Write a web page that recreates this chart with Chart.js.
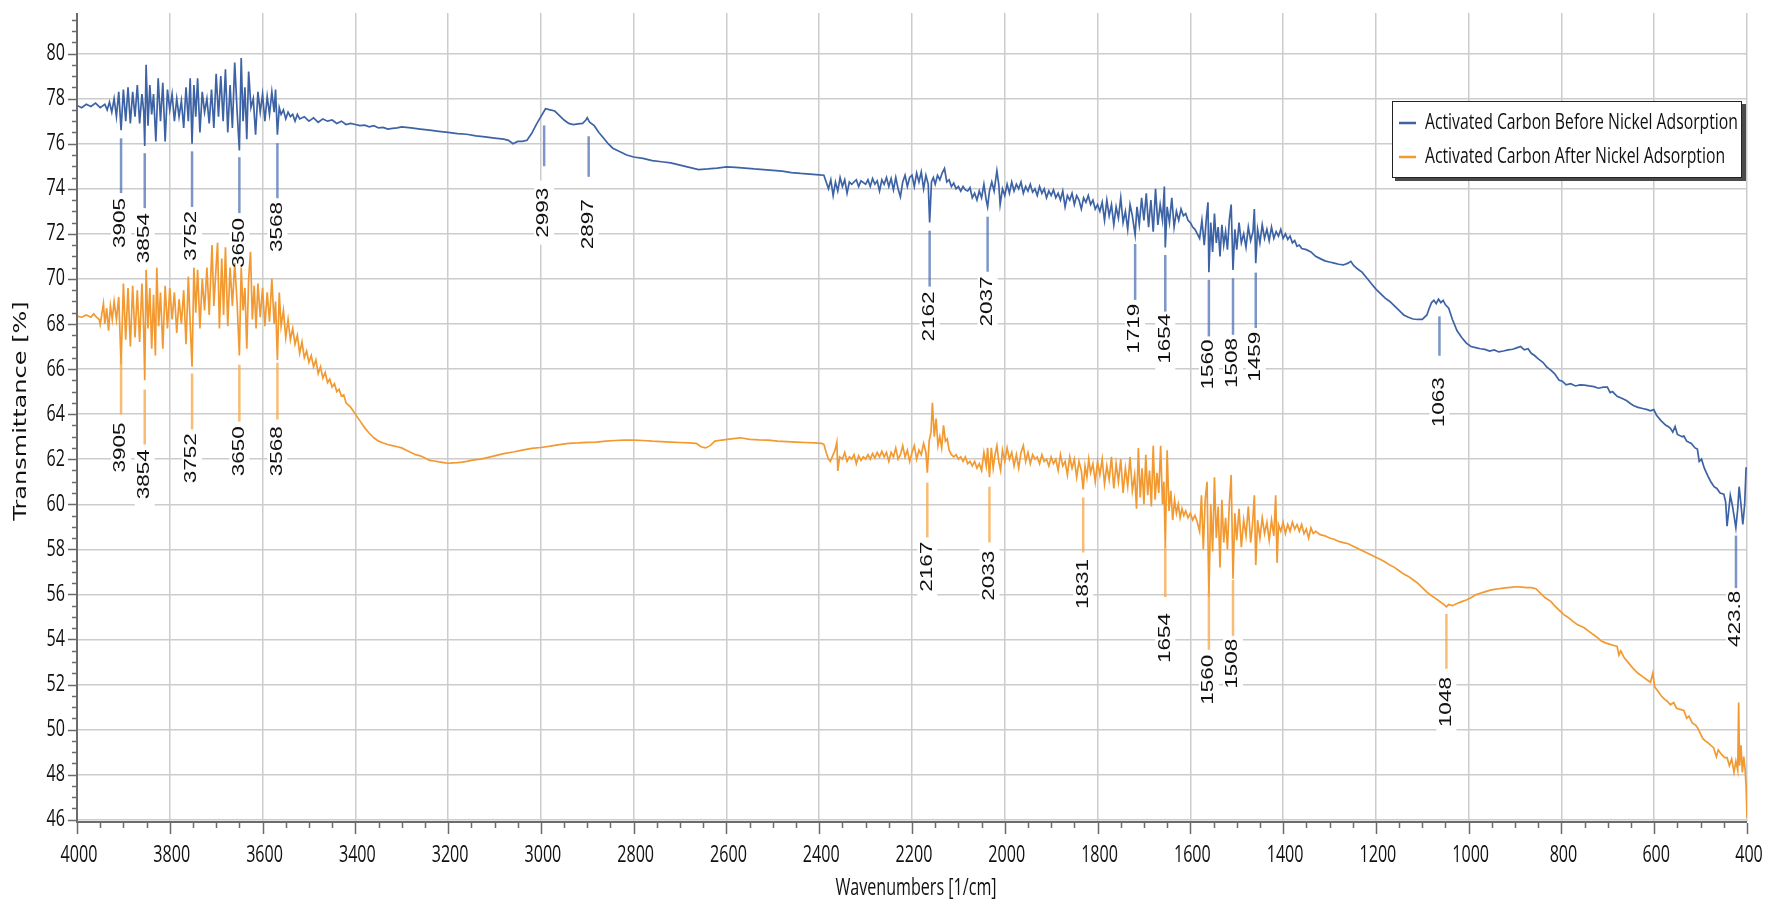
<!DOCTYPE html>
<html>
<head>
<meta charset="utf-8">
<script src="https://cdn.jsdelivr.net/npm/chart.js@4.4.1/dist/chart.umd.min.js"></script>
<style>
  html, body { margin: 0; padding: 0; background: #ffffff; }
  canvas { display: block; }
</style>
</head>
<body>
<canvas id="c" width="1768" height="900"></canvas>
<script>
// ---------------- DATA ----------------
const seriesNames = ['Activated Carbon Before Nickel Adsorption', 'Activated Carbon After Nickel Adsorption'];

const xTicks = [4000, 3800, 3600, 3400, 3200, 3000, 2800, 2600, 2400, 2200, 2000, 1800, 1600, 1400, 1200, 1000, 800, 600, 400];
const yTicks = [46, 48, 50, 52, 54, 56, 58, 60, 62, 64, 66, 68, 70, 72, 74, 76, 78, 80];

// [wavenumber (1/cm), transmittance (%)]
const beforeSpectrum = [
[4000,77.7],[3990,77.6],[3980,77.75],[3970,77.65],[3960,77.8],[3950,77.6],[3940,77.75],[3935,77.5],[3930,77.85],[3925,77.4],[3920,78.0],
[3915,77.2],[3910,78.3],[3905,76.6],[3900,78.4],[3895,77.0],[3890,78.5],[3885,76.9],[3880,78.3],[3875,77.2],[3870,78.6],[3865,76.9],[3860,78.2],[3856,77.4],[3854,75.9],[3851,79.5],[3847,76.8],[3843,78.6],[3839,77.3],[3835,78.2],[3830,76.1],[3825,78.9],[3820,77.0],[3815,78.7],[3810,76.1],[3805,78.4],[3800,77.5],[3795,78.2],[3790,77.0],[3785,78.0],[3780,77.2],[3775,77.9],[3770,76.7],[3765,78.5],[3760,77.0],[3756,78.9],[3752,76.0],[3748,78.6],[3744,77.2],[3740,78.9],[3735,76.5],[3730,78.3],[3725,77.4],[3720,78.0],[3715,76.9],[3710,78.4],[3705,76.7],[3700,79.1],[3695,77.2],[3690,79.0],[3685,77.0],[3680,79.3],[3675,76.5],[3670,78.6],[3665,76.7],[3660,79.6],[3655,77.5],[3650,75.7],[3646,79.8],[3642,77.0],[3638,78.5],[3634,76.2],[3630,79.2],[3625,77.6],[3620,78.0],[3615,76.4],[3610,78.3],[3605,77.4],[3600,78.2],[3595,77.0],[3590,78.1],[3585,77.3],[3580,78.3],[3575,77.4],[3572,78.4],[3568,76.4],[3564,77.6],[3560,77.3],
[3555,77.5],[3550,77.1],[3545,77.4],[3540,77.2],[3535,77.3],[3530,77.0],[3525,77.3],[3520,77.1],[3510,77.2],[3500,77.0],[3490,77.15],[3480,76.95],[3470,77.1],[3460,77.0],[3450,77.05],[3440,76.9],[3430,77.0],[3420,76.85],[3410,76.9],[3400,76.85],[3390,76.8],[3380,76.82],[3370,76.75],[3360,76.8],[3350,76.7],[3340,76.72],[3330,76.65],[3320,76.68],[3310,76.7],[3300,76.75],[3280,76.7],[3260,76.65],[3240,76.6],[3220,76.55],[3200,76.5],[3180,76.45],[3160,76.42],[3140,76.35],[3120,76.3],[3100,76.25],[3080,76.2],[3070,76.15],[3060,76.0],[3050,76.1],[3040,76.1],[3030,76.15],[3020,76.45],[3010,76.85],[3000,77.2],[2990,77.55],[2980,77.5],[2970,77.45],[2960,77.25],[2950,77.05],[2940,76.9],[2930,76.85],[2920,76.88],[2910,76.9],[2903,77.05],[2900,77.15],[2895,76.95],[2885,76.8],[2875,76.5],[2865,76.25],[2855,76.0],[2845,75.8],[2835,75.7],[2825,75.6],[2815,75.5],[2800,75.41],[2780,75.35],[2760,75.25],[2740,75.2],[2720,75.15],[2700,75.05],[2680,74.95],[2660,74.85],[2640,74.88],[2620,74.92],[2600,74.97],[2580,74.95],[2560,74.92],[2540,74.88],[2520,74.85],[2500,74.82],[2480,74.78],[2460,74.72],[2440,74.68],[2420,74.65],[2400,74.62],[2390,74.6],
[2385,74.3],[2380,74.0],[2375,74.4],[2370,73.7],[2365,74.3],[2360,73.9],[2355,74.5],[2350,74.1],[2345,74.4],[2340,73.8],[2335,74.3],[2330,74.2],[2320,74.4],[2315,74.1],[2310,74.35],[2300,74.2],[2295,74.4],[2290,74.1],[2285,74.45],[2280,74.2],[2275,74.35],[2270,73.9],[2265,74.4],[2260,74.2],[2255,74.5],[2250,74.1],[2245,74.45],[2240,73.95],[2235,74.5],[2230,74.0],[2225,73.64],[2220,74.3],[2215,74.6],[2210,74.1],[2205,74.5],[2200,74.6],[2195,74.1],[2190,74.7],[2185,74.3],[2180,74.75],[2175,74.0],[2170,74.6],[2165,74.2],[2162,72.5],[2158,74.3],[2154,74.5],[2150,74.2],[2145,74.6],[2140,74.4],[2135,74.7],[2130,74.9],[2125,74.3],[2120,74.4],[2115,74.1],[2110,74.25],[2105,74.0],[2100,74.1],[2095,73.9],[2090,74.1],[2085,73.95],[2080,73.9],[2075,74.05],[2070,73.6],[2065,73.8],[2060,73.5],[2055,73.9],[2050,73.6],[2045,74.2],[2040,73.5],[2037,73.2],[2033,73.9],[2028,74.3],[2023,73.9],[2017,74.8],[2013,74.2],[2010,73.3],[2005,74.0],[2000,73.7],[1995,74.2],[1990,73.8],[1985,74.3],[1980,73.9],[1975,74.2],[1970,74.0],[1965,74.3],[1960,73.8],[1955,74.1],[1950,73.9],[1945,74.2],[1940,73.85],[1935,74.0],[1930,73.7],[1925,74.1],[1920,73.8],[1915,74.0],[1910,73.6],[1905,73.9],[1900,73.7],[1895,73.95],[1890,73.6],[1885,73.8],[1880,73.5],[1875,73.9],[1870,73.2],[1865,73.7],[1860,73.5],[1855,73.8],[1850,73.3],[1845,73.7],[1840,73.5],[1835,73.1],[1830,73.6],[1825,73.4],[1820,73.7],[1815,73.3],[1810,73.5],[1805,73.1],[1800,73.3],[1795,73.0],
[1790,73.4],[1785,72.6],[1780,73.5],[1775,72.8],[1770,73.3],[1765,72.4],[1760,73.2],[1755,72.7],[1750,73.6],[1745,72.5],[1740,73.0],[1735,72.2],[1730,73.3],[1725,72.8],[1719,71.95],[1715,73.2],[1710,72.4],[1705,73.6],[1700,72.6],[1695,73.8],[1690,72.3],[1685,73.5],[1680,72.1],[1675,74.0],[1670,72.4],[1665,73.3],[1660,72.6],[1656,74.1],[1654,71.4],[1650,73.2],[1645,72.5],[1640,73.6],[1635,72.3],[1630,73.0],[1625,72.6],[1620,73.1],[1615,72.8],[1610,72.9],[1605,72.6],[1600,72.5],[1595,72.3],[1590,72.2],[1585,72.0],
[1580,71.8],[1575,72.6],[1570,71.5],[1565,72.8],[1562,73.4],[1560,70.3],[1556,72.5],[1552,71.2],[1548,72.9],[1544,71.6],[1540,72.3],[1536,71.0],[1532,72.4],[1528,71.5],[1524,72.1],[1520,71.3],[1516,72.6],[1512,73.3],[1508,70.4],[1504,72.2],[1500,71.3],[1495,72.5],[1490,71.6],[1485,72.0],[1480,71.4],[1475,72.3],[1470,71.7],[1465,72.1],[1462,73.1],[1459,70.7],[1455,72.2],[1450,71.6],[1445,72.4],[1440,71.8],[1435,72.2],[1430,71.7],[1425,72.3],[1420,71.8],[1415,72.1],[1410,71.9],[1405,72.2],[1400,71.8],[1395,72.0],[1390,71.75],[1385,71.9],[1380,71.6],[1375,71.7],[1370,71.45],[1365,71.5],[1360,71.35],
[1350,71.3],[1340,71.2],[1330,71.0],[1320,70.9],[1310,70.8],[1300,70.75],[1290,70.7],[1280,70.65],[1270,70.62],[1260,70.7],[1254,70.78],[1248,70.6],[1240,70.45],[1230,70.3],[1220,70.05],[1210,69.8],[1200,69.55],[1190,69.35],[1180,69.15],[1170,69.0],[1160,68.8],[1150,68.6],[1140,68.4],[1130,68.3],[1120,68.22],[1110,68.2],[1100,68.2],[1090,68.4],[1085,68.7],[1080,68.95],[1075,69.05],[1070,68.9],[1065,69.1],[1060,68.95],[1055,69.05],[1050,68.85],[1043,68.7],[1035,68.2],[1025,67.7],[1015,67.4],[1005,67.15],[995,67.0],[985,66.95],[975,66.9],[965,66.87],[955,66.8],[945,66.85],[935,66.76],[925,66.8],[915,66.85],[905,66.88],[895,66.95],[888,67.0],[880,66.85],[872,66.9],[865,66.7],[858,66.6],[850,66.45],[840,66.3],[832,66.1],[823,65.95],[815,65.8],[805,65.5],[798,65.46],[790,65.3],[780,65.35],[770,65.25],[760,65.3],[751,65.29],[740,65.25],[730,65.22],[720,65.15],[710,65.2],[701,65.2],[695,64.95],[690,65.0],[680,64.79],[670,64.7],[660,64.6],[650,64.45],[644,64.37],[635,64.3],[625,64.25],[615,64.2],[608,64.15],[601,64.2],[595,63.95],[585,63.7],[575,63.5],[570,63.45],[565,63.37],[560,63.2],[555,63.45],[550,63.1],[540,63.0],[536,63.03],[530,62.8],[520,62.7],[512,62.5],[507,62.45],[503,61.9],[498,62.0],[492,61.6],[485,61.28],[478,61.0],[471,60.78],[465,60.7],[458,60.5],[450,60.45],[446,60.1],[443,59.03],[440,59.6],[436,60.4],[432,60.0],[428,59.5],[424,58.95],[420,59.8],[417,60.78],[413,60.0],[409,59.1],[405,60.0],[402,61.6],[400,61.6]
];

const afterSpectrum = [
[4000,68.35],[3990,68.3],[3980,68.4],[3970,68.3],[3964,68.45],[3958,68.3],[3952,68.2],[3950,67.98],[3946,68.5],[3943,68.9],[3940,68.0],[3936,68.7],[3932,67.7],[3928,68.8],[3924,68.2],[3920,69.0],
[3915,68.2],[3910,69.2],[3905,66.2],[3900,69.8],[3895,67.3],[3890,69.6],[3885,67.0],[3880,69.7],[3875,67.4],[3870,69.5],[3865,67.2],[3860,69.8],[3856,67.6],[3854,65.5],[3851,70.4],[3847,67.8],[3843,69.6],[3839,66.9],[3835,69.3],[3831,66.6],[3828,70.5],[3824,67.9],[3820,69.4],[3815,66.9],[3810,69.7],[3805,67.8],[3800,69.6],[3795,68.2],[3790,69.4],[3785,67.6],[3780,69.1],[3775,68.0],[3770,69.5],[3765,67.1],[3760,70.1],[3756,68.0],[3752,66.1],[3748,70.5],[3744,68.5],[3740,70.4],[3735,67.8],[3730,70.0],[3725,68.6],[3720,70.5],[3715,68.4],[3709,71.5],[3705,68.8],[3700,70.6],[3697,71.6],[3693,67.8],[3688,70.9],[3684,68.4],[3680,71.4],[3675,67.9],[3670,70.5],[3665,68.8],[3660,70.7],[3655,69.0],[3650,66.6],[3646,70.5],[3642,68.6],[3638,69.6],[3634,66.9],[3630,70.0],[3626,71.2],[3622,68.2],[3618,69.7],[3614,67.8],[3610,69.8],[3605,68.3],[3600,69.6],[3595,67.9],[3590,69.4],[3585,68.1],[3580,70.0],[3575,68.0],[3572,69.0],[3568,66.4],[3564,69.4],[3560,67.9],
[3555,68.6],[3550,67.4],[3545,68.2],[3540,67.3],[3535,67.8],[3530,67.1],[3525,67.5],[3520,66.7],[3515,67.2],[3510,66.5],[3505,66.8],[3500,66.3],[3495,66.6],[3490,66.1],[3485,66.4],[3480,65.8],[3475,66.1],[3470,65.6],[3465,65.85],[3460,65.4],[3455,65.55],[3450,65.2],[3445,65.35],[3440,65.0],[3435,65.1],[3430,64.8],[3425,64.85],[3420,64.5],[3410,64.3],[3400,64.0],[3390,63.7],[3380,63.4],[3370,63.15],[3360,62.95],[3350,62.8],[3340,62.72],[3330,62.65],[3320,62.6],[3310,62.55],[3300,62.5],[3290,62.4],[3280,62.3],[3270,62.2],[3260,62.15],[3250,62.05],[3240,61.95],[3230,61.92],[3220,61.88],[3210,61.85],[3200,61.82],[3190,61.84],[3180,61.85],[3170,61.87],[3160,61.9],[3150,61.95],[3140,61.98],[3130,62.0],[3120,62.05],[3100,62.15],[3080,62.25],[3060,62.32],[3040,62.4],[3020,62.48],[3000,62.52],[2980,62.58],[2960,62.65],[2940,62.7],[2920,62.72],[2900,62.75],[2880,62.76],[2860,62.8],[2840,62.83],[2820,62.85],[2800,62.85],[2780,62.83],[2760,62.8],[2740,62.78],[2720,62.76],[2700,62.74],[2680,62.72],[2665,62.7],[2655,62.55],[2645,62.5],[2635,62.6],[2625,62.8],[2610,62.85],[2590,62.9],[2570,62.95],[2550,62.88],[2530,62.86],[2510,62.85],[2490,62.8],[2470,62.78],[2450,62.76],[2430,62.74],[2410,62.72],[2395,62.7],[2390,62.66],
[2385,62.3],[2380,62.0],[2376,61.9],[2370,62.2],[2366,62.4],[2362,62.75],[2360,61.48],[2356,62.1],[2350,62.0],[2345,62.3],[2340,61.9],[2335,62.1],[2330,62.0],[2325,62.2],[2320,61.8],[2315,62.15],[2310,61.95],[2305,62.1],[2300,62.0],[2295,62.2],[2290,62.0],[2285,62.25],[2280,62.05],[2275,62.3],[2270,62.1],[2265,62.35],[2260,62.1],[2255,62.3],[2250,61.9],[2245,62.3],[2240,62.1],[2235,62.5],[2230,62.0],[2225,62.2],[2220,62.6],[2215,62.1],[2210,62.4],[2205,61.9],[2200,62.3],[2195,62.6],[2190,62.0],[2185,62.4],[2180,62.2],[2175,62.7],[2170,62.3],[2167,61.4],[2163,62.8],[2159,63.2],[2156,64.5],[2152,63.0],[2148,63.8],[2144,62.6],[2140,63.0],[2136,62.5],[2132,63.5],[2128,62.8],[2124,62.9],[2120,62.4],[2115,62.2],[2110,62.1],[2105,62.2],[2100,62.0],[2095,62.1],[2090,61.9],[2085,62.1],[2080,61.8],[2075,61.9],[2070,61.7],[2065,61.9],[2060,61.6],[2055,61.8],[2050,61.5],[2045,62.3],[2040,61.7],[2037,62.5],[2033,61.2],[2029,62.5],[2025,61.6],[2021,62.2],[2017,62.6],[2013,61.9],[2009,61.5],[2005,62.4],[2000,61.9],[1995,62.5],[1990,62.0],[1985,62.3],[1980,61.7],[1975,62.2],[1970,61.6],[1965,62.3],[1960,62.6],[1955,61.9],[1950,62.3],[1945,61.8],[1940,62.2],[1935,62.0],[1930,62.1],[1925,61.8],[1920,62.2],[1915,61.9],[1910,62.0],[1905,61.7],[1900,62.1],[1895,61.8],[1890,62.0],[1885,61.5],[1880,62.2],[1875,61.7],[1870,61.9],[1865,61.3],[1860,62.1],[1855,61.6],[1850,62.0],[1845,61.2],[1840,61.9],[1835,61.5],[1831,60.66],[1827,61.7],[1823,61.2],[1819,62.0],[1815,61.4],[1810,61.8],[1805,61.0],[1800,61.9],[1795,61.3],[1790,62.0],[1785,60.9],[1780,61.7],[1775,61.1],[1770,62.1],[1765,60.7],[1760,61.8],[1755,61.0],[1750,62.0],[1745,60.5],[1740,61.6],[1735,60.8],[1730,62.1],[1725,60.6],[1720,61.3],[1716,59.8],[1712,62.5],[1708,60.3],[1704,61.6],[1700,60.0],[1696,62.2],[1692,60.4],[1688,61.5],[1684,59.9],[1680,62.6],[1676,60.2],[1672,61.4],[1668,60.5],[1664,62.6],[1660,60.0],[1657,61.0],[1654,58.1],[1650,62.4],[1646,59.7],[1642,60.6],[1638,59.3],[1634,60.2],[1630,59.6],[1626,60.0],[1622,59.4],[1618,59.8],[1614,59.5],[1610,59.7],[1605,59.4],[1600,59.6],[1595,59.3],[1590,59.5],[1585,59.2],[1580,58.8],[1576,60.4],[1572,58.0],[1568,60.2],[1564,61.0],[1560,55.9],[1556,60.0],[1552,57.9],[1548,61.2],[1544,58.5],[1540,59.9],[1536,57.2],[1532,60.2],[1528,58.3],[1524,59.4],[1520,58.0],[1516,60.0],[1512,61.3],[1508,56.7],[1504,59.6],[1500,58.4],[1495,59.8],[1490,58.1],[1485,59.3],[1480,58.6],[1475,59.9],[1470,58.3],[1466,59.1],[1462,60.4],[1459,57.3],[1455,59.3],[1450,58.5],[1445,59.4],[1440,58.7],[1435,59.2],[1430,58.4],[1425,59.3],[1420,58.6],[1416,60.4],[1413,57.4],[1410,59.1],[1405,58.8],[1400,59.2],[1395,58.7],[1390,59.1],[1385,58.8],[1380,59.2],[1375,58.9],[1370,59.1],[1365,58.8],[1360,59.1],[1355,58.7],[1350,58.9],[1345,58.5],[1340,58.95],[1335,58.7],[1330,58.8],
[1320,58.65],[1310,58.6],[1300,58.5],[1290,58.45],[1280,58.35],[1270,58.3],[1260,58.25],[1250,58.15],[1240,58.05],[1230,57.95],[1220,57.85],[1210,57.75],[1200,57.65],[1190,57.55],[1180,57.44],[1170,57.3],[1160,57.2],[1150,57.05],[1140,56.9],[1130,56.8],[1120,56.65],[1110,56.5],[1100,56.3],[1090,56.1],[1080,55.94],[1070,55.8],[1060,55.65],[1053,55.55],[1048,55.45],[1043,55.55],[1035,55.5],[1025,55.6],[1015,55.68],[1005,55.75],[995,55.85],[985,55.98],[975,56.05],[967,56.1],[955,56.18],[945,56.22],[935,56.25],[925,56.28],[915,56.3],[905,56.32],[895,56.34],[885,56.32],[875,56.3],[865,56.3],[855,56.25],[845,56.05],[835,55.85],[823,55.69],[815,55.5],[805,55.3],[795,55.1],[787,55.0],[775,54.8],[765,54.65],[751,54.52],[740,54.35],[730,54.2],[720,54.05],[715,53.94],[705,53.85],[695,53.78],[685,53.72],[680,53.69],[676,53.3],[672,53.5],[665,53.2],[655,52.95],[644,52.68],[635,52.5],[625,52.35],[615,52.2],[608,52.1],[603,52.5],[599,51.9],[592,51.7],[585,51.5],[578,51.35],[572,51.26],[565,51.1],[558,51.2],[552,50.95],[544,50.9],[536,50.85],[530,50.5],[525,50.6],[518,50.3],[511,50.2],[507,50.1],[500,49.8],[495,49.6],[490,49.5],[485,49.43],[478,49.3],[472,49.2],[466,48.8],[462,49.1],[455,48.9],[448,48.76],[443,48.76],[438,48.4],[433,48.7],[428,48.1],[424,48.6],[420,48.2],[418,51.2],[416,48.4],[413,49.3],[410,48.1],[407,48.8],[404,48.2],[402,47.5],[400,46.1]
];

// Peak annotations: [wavenumber, line top (%T), line bottom (%T), label centre (%T), label]
const beforePeaks = [
[3905,76.24,73.81,72.48,'3905'],[3854,75.58,73.14,71.81,'3854'],[3752,75.66,73.19,71.90,'3752'],
[3650,75.40,72.92,71.59,'3650'],[3568,76.02,73.58,72.30,'3568'],[2993,76.81,75.0,72.94,'2993'],
[2897,76.33,74.53,72.43,'2897'],[2162,72.14,69.66,68.33,'2162'],[2037,72.76,70.32,69.0,'2037'],
[1719,71.55,69.07,67.79,'1719'],[1654,71.06,68.55,67.35,'1654'],[1560,69.96,67.45,66.2,'1560'],
[1508,70.03,67.52,66.27,'1508'],[1459,70.28,67.82,66.55,'1459'],[1063,68.34,66.59,64.53,'1063'],
[423.8,58.61,56.28,54.91,'423.8']
];
const afterPeaks = [
[3905,66.46,63.98,62.52,'3905'],[3854,65.09,62.65,61.33,'3854'],[3752,65.80,63.32,62.04,'3752'],
[3650,66.19,63.67,62.35,'3650'],[3568,66.28,63.76,62.35,'3568'],[2167,60.96,58.53,57.23,'2167'],
[2033,60.78,58.31,56.83,'2033'],[1831,60.30,57.86,56.46,'1831'],[1654,58.14,55.88,54.07,'1654'],
[1560,56.15,53.54,52.21,'1560'],[1508,56.64,54.16,52.92,'1508'],[1048,55.13,52.7,51.22,'1048']
];

// ---------------- STYLE ----------------
const BLUE = '#3d63a5';
const ORANGE = '#f29a31';
const BLUE_MARK = 'rgba(80,115,180,0.75)';
const ORANGE_MARK = 'rgba(245,165,70,0.75)';
const GRID = '#cccccc';
const AXIS = '#6b6b6b';
const SQ = 0.7;
const UI_FONT = '"Open Sans", "Noto Sans", sans-serif';
const PEAK_FONT = '22.5px "Liberation Sans", Arial, sans-serif';

function hText(ctx, txt, x, y, font, align) {
  ctx.save();
  ctx.translate(x, y);
  ctx.scale(SQ, 1);
  ctx.font = font;
  ctx.textAlign = align;
  ctx.textBaseline = 'middle';
  ctx.fillStyle = '#111';
  ctx.fillText(txt, 0, 0);
  ctx.restore();
}
function vText(ctx, txt, x, y, font) {
  ctx.save();
  ctx.translate(x, y);
  ctx.scale(SQ, 1);
  ctx.rotate(-Math.PI / 2);
  ctx.font = font;
  ctx.textAlign = 'center';
  ctx.textBaseline = 'middle';
  ctx.fillStyle = '#111';
  ctx.fillText(txt, 0, 0);
  ctx.restore();
}
function vTextLen(ctx, txt, font) {
  ctx.save(); ctx.font = font; const w = ctx.measureText(txt).width; ctx.restore(); return w;
}

const decor = {
  id: 'decor',
  beforeDraw(chart) {
    const ctx = chart.ctx;
    ctx.save(); ctx.fillStyle = '#fff'; ctx.fillRect(0, 0, chart.width, chart.height); ctx.restore();
  },
  beforeDatasetsDraw(chart) {
    const ctx = chart.ctx, xs = chart.scales.x, ys = chart.scales.y;
    ctx.save();
    ctx.fillStyle = '#fff';
    [beforePeaks, afterPeaks].forEach(list => list.forEach(p => {
      const x = xs.getPixelForValue(p[0]);
      const yc = ys.getPixelForValue(p[3]);
      const len = vTextLen(ctx, p[4], PEAK_FONT);
      ctx.fillRect(x - 10, yc - len / 2 - 7, 20, len + 14);
    }));
    ctx.restore();
  },
  afterDatasetsDraw(chart) {
    const ctx = chart.ctx, xs = chart.scales.x, ys = chart.scales.y;
    const a = chart.chartArea;
    // peak markers
    [[beforePeaks, BLUE_MARK], [afterPeaks, ORANGE_MARK]].forEach(([list, col]) => {
      list.forEach(p => {
        const x = xs.getPixelForValue(p[0]);
        ctx.save();
        ctx.strokeStyle = col; ctx.lineWidth = 2.5;
        ctx.beginPath();
        ctx.moveTo(x, ys.getPixelForValue(p[1]));
        ctx.lineTo(x, ys.getPixelForValue(p[2]));
        ctx.stroke();
        ctx.restore();
        vText(ctx, p[4], x, ys.getPixelForValue(p[3]), PEAK_FONT);
      });
    });
    // axis lines
    ctx.save();
    ctx.strokeStyle = AXIS; ctx.lineWidth = 2;
    ctx.beginPath();
    ctx.moveTo(a.left, a.top); ctx.lineTo(a.left, a.bottom + 1);
    ctx.moveTo(a.left - 1, a.bottom); ctx.lineTo(a.right, a.bottom);
    ctx.stroke();
    // y ticks
    ctx.lineWidth = 1.5;
    ctx.beginPath();
    for (let v = 46; v <= 81.6; v += 0.5) {
      const y = Math.round(ys.getPixelForValue(v)) + 0.5;
      const major = Math.abs(v / 2 - Math.round(v / 2)) < 1e-6;
      ctx.moveTo(a.left - (major ? 9 : 5), y); ctx.lineTo(a.left - 1, y);
    }
    // x ticks
    for (let v = 4000; v >= 400; v -= 50) {
      const x = Math.round(xs.getPixelForValue(v)) + 0.5;
      const major = v % 200 === 0;
      ctx.moveTo(x, a.bottom + 1); ctx.lineTo(x, a.bottom + (major ? 12 : 6));
    }
    ctx.stroke();
    ctx.restore();
    // tick labels
    const tf = '23px ' + UI_FONT;
    yTicks.forEach(v => hText(ctx, String(v), a.left - 12, ys.getPixelForValue(v), tf, 'right'));
    xTicks.forEach(v => hText(ctx, String(v), xs.getPixelForValue(v) + 2, 855, tf, 'center'));
    // axis titles
    hText(ctx, 'Wavenumbers [1/cm]', 916, 888, tf, 'center');
    vText(ctx, 'Transmittance [%]', 22, 411, '24px "DejaVu Sans", Verdana, sans-serif');
    // legend
    ctx.save();
    ctx.fillStyle = '#4a4a4a';
    ctx.fillRect(1395, 104, 351, 77);
    ctx.fillStyle = '#fff';
    ctx.fillRect(1392, 101, 350, 77);
    ctx.strokeStyle = '#222'; ctx.lineWidth = 1;
    ctx.strokeRect(1392.5, 101.5, 349, 76);
    ctx.lineWidth = 2.5;
    ctx.strokeStyle = BLUE; ctx.beginPath(); ctx.moveTo(1399, 123); ctx.lineTo(1416, 123); ctx.stroke();
    ctx.strokeStyle = ORANGE; ctx.beginPath(); ctx.moveTo(1399, 157); ctx.lineTo(1416, 157); ctx.stroke();
    ctx.restore();
    hText(ctx, seriesNames[0], 1425, 123, '22.5px ' + UI_FONT, 'left');
    hText(ctx, seriesNames[1], 1425, 157, '22.5px ' + UI_FONT, 'left');
  }
};

const toPts = arr => arr.map(p => ({ x: p[0], y: p[1] }));

new Chart(document.getElementById('c'), {
  type: 'line',
  data: {
    datasets: [
      { label: seriesNames[0], data: toPts(beforeSpectrum), borderColor: BLUE, borderWidth: 1.7, pointRadius: 0, tension: 0, fill: false },
      { label: seriesNames[1], data: toPts(afterSpectrum), borderColor: ORANGE, borderWidth: 1.7, pointRadius: 0, tension: 0, fill: false }
    ]
  },
  options: {
    responsive: false,
    devicePixelRatio: 1,
    animation: false,
    parsing: true,
    layout: { padding: { left: 77, right: 21, top: 13, bottom: 78 } },
    plugins: { legend: { display: false }, tooltip: { enabled: false } },
    scales: {
      x: {
        type: 'linear', min: 400, max: 4000, reverse: true,
        afterBuildTicks: s => { s.ticks = xTicks.map(v => ({ value: v })); },
        ticks: { display: false },
        grid: { color: GRID, lineWidth: 1.5, drawTicks: false },
        border: { display: false }
      },
      y: {
        type: 'linear', min: 45.9, max: 81.8,
        afterBuildTicks: s => { s.ticks = yTicks.map(v => ({ value: v })); },
        ticks: { display: false },
        grid: { color: GRID, lineWidth: 1.5, drawTicks: false },
        border: { display: false }
      }
    }
  },
  plugins: [decor]
});
</script>
</body>
</html>
